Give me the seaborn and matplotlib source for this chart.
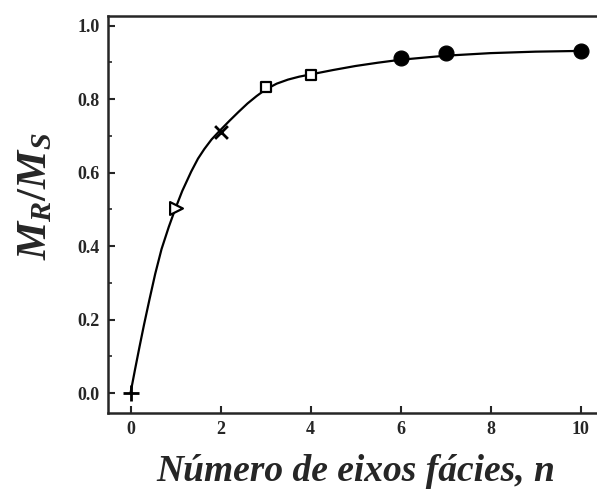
import numpy as np
import pandas as pd
import matplotlib
matplotlib.use("Agg")
import matplotlib.pyplot as plt
from matplotlib.ticker import MultipleLocator
import seaborn as sns

# measured points
n_points = [0, 1, 2, 3, 4, 6, 7, 10]
mr_ms = [0.0, 0.503, 0.710, 0.833, 0.866, 0.913, 0.926, 0.931]
groups = ["plus", "tri", "cross", "square", "square", "circle", "circle", "circle"]

# fitted curve
curve_n = [0, 0.1, 0.2, 0.3, 0.42, 0.55, 0.69, 0.85, 1.0, 1.15, 1.35, 1.5, 1.64, 1.8,
           2.0, 2.2, 2.4, 2.6, 2.8, 3.0, 3.25, 3.5, 3.75, 4.0, 4.5, 5.0, 5.5, 6.0,
           7.0, 8.0, 9.0, 10.0]
curve_y = [0.0, 0.064, 0.126, 0.186, 0.254, 0.325, 0.392, 0.452, 0.503, 0.55, 0.603,
           0.638, 0.664, 0.690, 0.716, 0.741, 0.765, 0.788, 0.808, 0.826, 0.842, 0.853,
           0.861, 0.867, 0.879, 0.890, 0.899, 0.907, 0.918, 0.925, 0.929, 0.931]

x_ticks = [0, 2, 4, 6, 8, 10]
y_ticks = [0.0, 0.2, 0.4, 0.6, 0.8, 1.0]

sns.set_style("ticks")
plt.rcParams["font.family"] = ["Liberation Serif", "DejaVu Serif"]
plt.rcParams["mathtext.fontset"] = "custom"
plt.rcParams["mathtext.it"] = "Liberation Serif:italic:bold"
plt.rcParams["mathtext.rm"] = "Liberation Serif:bold"
plt.rcParams["mathtext.bf"] = "Liberation Serif:bold"

fig = plt.figure(figsize=(5.97, 4.91), dpi=100)
ax = fig.add_axes([108 / 597, 78 / 491, 495 / 597, 397 / 491])

curve = pd.DataFrame({"n": curve_n, "y": curve_y})
sns.lineplot(data=curve, x="n", y="y", ax=ax, color="black", linewidth=1.6)

df = pd.DataFrame({"n": n_points, "y": mr_ms, "g": groups})
styles = {
    "plus": dict(marker="+", s=120, color="black", linewidth=2),
    "tri": dict(marker=">", s=85, facecolor="white", edgecolor="black", linewidth=1.6),
    "cross": dict(marker="x", s=85, color="black", linewidth=2),
    "square": dict(marker="s", s=60, facecolor="white", edgecolor="black", linewidth=1.6),
    "circle": dict(marker="o", s=115, color="black", edgecolor="black"),
}
for g, kw in styles.items():
    sub = df[df["g"] == g]
    sns.scatterplot(data=sub, x="n", y="y", ax=ax, zorder=5, **kw)

ax.set_xlim(-0.5, 10.5)
ax.set_ylim(-0.054, 1.026)
ax.set_xticks(x_ticks)
ax.set_yticks(y_ticks)
ax.set_xticklabels([str(t) for t in x_ticks])
ax.set_yticklabels([f"{t:.1f}" for t in y_ticks])
ax.yaxis.set_minor_locator(MultipleLocator(0.1))
ax.tick_params(axis="both", which="major", direction="in", length=5, width=1.5,
               labelsize=13, pad=6)
ax.tick_params(axis="y", which="minor", direction="in", length=3, width=1.2)
for lab in ax.get_xticklabels() + ax.get_yticklabels():
    lab.set_fontweight("bold")

for side in ["left", "bottom", "top"]:
    ax.spines[side].set_linewidth(1.8)
ax.spines["right"].set_visible(False)

ax.set_xlabel("Número de eixos fácies, n", fontsize=27, fontweight="bold",
              fontstyle="italic", labelpad=11)
ax.set_ylabel(r"$M_R/M_S$", fontsize=31, labelpad=16)
ax.yaxis.label.set_y(0.545)

fig.savefig("out.png", dpi=100)
